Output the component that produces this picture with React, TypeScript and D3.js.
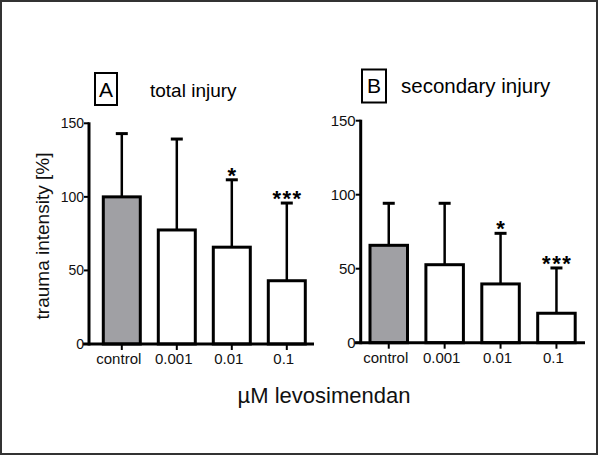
import React from "react";
import * as d3 from "d3";

const categories = ["control", "0.001", "0.01", "0.1"];
const totalMeans = [100, 77.5, 65.8, 43];
const totalErrTops = [143, 139.3, 111.6, 95.8];
const totalStars = ["", "", "*", "***"];
const secondaryMeans = [65.8, 52.7, 39.7, 19.9];
const secondaryErrTops = [94.2, 94.2, 73.9, 50.5];
const secondaryStars = ["", "", "*", "***"];
const yTicks = [0, 50, 100, 150];
const fills = ["#a0a0a4", "#ffffff", "#ffffff", "#ffffff"];

const FONT = "'Liberation Sans', Arial, sans-serif";

type PanelProps = {
  axisX: number;
  axisEnd: number;
  y0: number;
  y150: number;
  firstBarStart: number;
  step: number;
  bandW: number;
  means: number[];
  errs: number[];
  stars: string[];
  tickFont: number;
};

function Panel(p: PanelProps) {
  const y = d3.scaleLinear().domain([0, 150]).range([p.y0, p.y150]);
  const inner = (p.step - p.bandW) / p.step;
  const outer = (p.firstBarStart - p.axisX) / p.step;
  const x = d3
    .scaleBand<string>()
    .domain(categories)
    .range([p.axisX, p.axisX + p.step * (categories.length - inner + 2 * outer)])
    .paddingInner(inner)
    .paddingOuter(outer);
  const bw = x.bandwidth();
  return (
    <g>
      {categories.map((c, i) => {
        const cx = (x(c) as number) + bw / 2;
        const top = y(p.means[i]);
        const et = y(p.errs[i]);
        return (
          <g key={c}>
            <line x1={cx} x2={cx} y1={top} y2={et} stroke="#000" strokeWidth={2.5} />
            <line x1={cx - 6} x2={cx + 6} y1={et} y2={et} stroke="#000" strokeWidth={3} />
            <rect
              x={x(c) as number}
              y={top}
              width={bw}
              height={p.y0 - top}
              fill={fills[i]}
              stroke="#000"
              strokeWidth={3}
            />
            {p.stars[i] && (
              <text
                x={cx + 0.75}
                y={et + 3}
                textAnchor="middle"
                fontSize={22}
                letterSpacing={1.5}
                fontWeight="bold"
                fontFamily={FONT}
                fill="#000"
              >
                {p.stars[i]}
              </text>
            )}
            <line x1={cx} x2={cx} y1={p.y0} y2={p.y0 + 6} stroke="#000" strokeWidth={2} />
            <text x={cx - 3} y={p.y0 + 20} textAnchor="middle" fontSize={15} fontFamily={FONT} fill="#111">
              {c}
            </text>
          </g>
        );
      })}
      <line x1={p.axisX} x2={p.axisX} y1={p.y150 - 1} y2={p.y0 + 1.5} stroke="#000" strokeWidth={3} />
      <line x1={p.axisX - 6} x2={p.axisEnd} y1={p.y0} y2={p.y0} stroke="#000" strokeWidth={3} />
      {yTicks.map((t) => (
        <g key={t}>
          <line x1={p.axisX - 5} x2={p.axisX} y1={y(t)} y2={y(t)} stroke="#000" strokeWidth={2} />
          <text
            x={p.axisX - 5}
            y={y(t)}
            dy="0.36em"
            textAnchor="end"
            fontSize={p.tickFont}
            fontFamily={FONT}
            fill="#111"
          >
            {t}
          </text>
        </g>
      ))}
    </g>
  );
}

export default function App() {
  return (
    <svg
      width={600}
      height={456}
      style={{ position: "absolute", left: 0, top: 0, display: "block", background: "#fff" }}
    >
      <rect x={1} y={1} width={596} height={453} fill="#fff" stroke="#333" strokeWidth={2} />
      <Panel
        axisX={89}
        axisEnd={314}
        y0={344}
        y150={123.3}
        firstBarStart={103.3}
        step={55}
        bandW={37}
        means={totalMeans}
        errs={totalErrTops}
        stars={totalStars}
        tickFont={14}
      />
      <Panel
        axisX={360.7}
        axisEnd={585}
        y0={342.7}
        y150={120.7}
        firstBarStart={370}
        step={55.9}
        bandW={37.5}
        means={secondaryMeans}
        errs={secondaryErrTops}
        stars={secondaryStars}
        tickFont={15}
      />
      <rect x={95} y={73} width={22} height={32} fill="#fff" stroke="#000" strokeWidth={2} />
      <text x={106} y={97} textAnchor="middle" fontSize={21} fontFamily={FONT} fill="#000">A</text>
      <text x={150} y={97} fontSize={19} fontFamily={FONT} fill="#000">total injury</text>
      <rect x={362} y={69.5} width={24} height={33} fill="#fff" stroke="#000" strokeWidth={2} />
      <text x={374} y={93} textAnchor="middle" fontSize={21} fontFamily={FONT} fill="#000">B</text>
      <text x={401} y={93} fontSize={20.5} fontFamily={FONT} fill="#000">secondary injury</text>
      <text
        transform="translate(49,236) rotate(-90)"
        textAnchor="middle"
        fontSize={19}
        fontFamily={FONT}
        fill="#111"
      >
        trauma intensity [%]
      </text>
      <text x={324} y={403} textAnchor="middle" fontSize={22} fontFamily={FONT} fill="#111">
        µM levosimendan
      </text>
    </svg>
  );
}
